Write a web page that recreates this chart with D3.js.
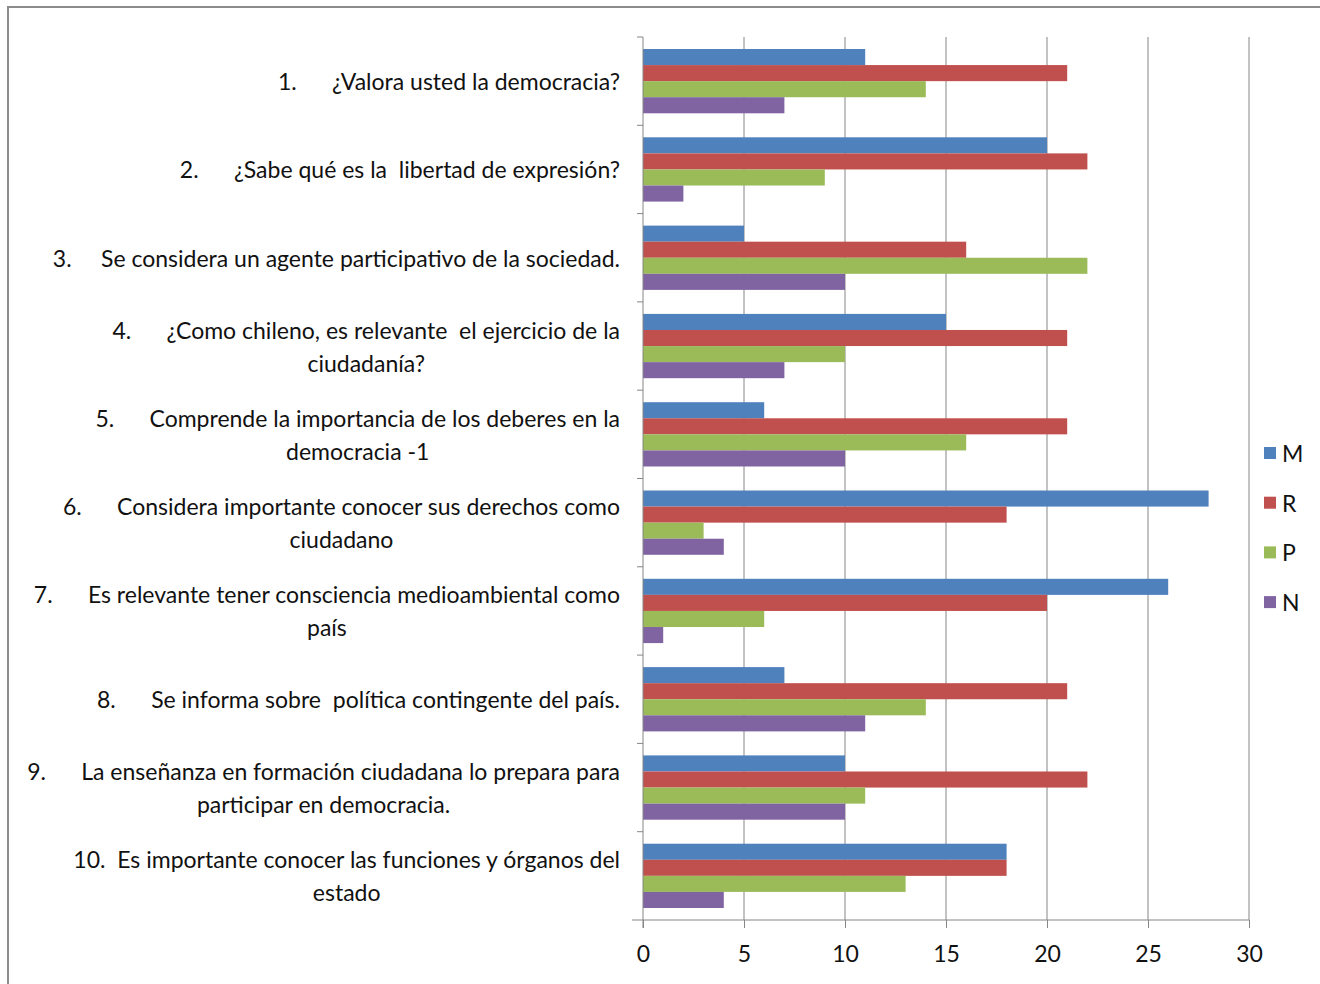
<!DOCTYPE html>
<html>
<head>
<meta charset="utf-8">
<script src="https://cdn.jsdelivr.net/npm/d3@7"></script>
<style>
  html, body { margin: 0; padding: 0; background: #fff; overflow: hidden; }
  svg { display: block; font-family: Lato, "Open Sans", sans-serif; }
  .label { fill: #111; font-size: 23px; }
  .tick-label { fill: #111; font-size: 23px; }
  .legend-text { fill: #111; font-size: 23px; }
</style>
</head>
<body>
<div class="chart"></div>
<script>
const categories = [
  ["1.\u00a0\u00a0\u00a0\u00a0\u00a0\u00a0¿Valora usted la democracia?"],
  ["2.\u00a0\u00a0\u00a0\u00a0\u00a0\u00a0¿Sabe qué es la\u00a0 libertad de expresión?"],
  ["3.\u00a0\u00a0\u00a0\u00a0\u00a0Se considera un agente participativo de la sociedad."],
  ["4.\u00a0\u00a0\u00a0\u00a0\u00a0\u00a0¿Como chileno, es relevante\u00a0 el ejercicio de la", "ciudadanía?"],
  ["5.\u00a0\u00a0\u00a0\u00a0\u00a0\u00a0Comprende la importancia de los deberes en la", "democracia -1"],
  ["6.\u00a0\u00a0\u00a0\u00a0\u00a0\u00a0Considera importante conocer sus derechos como", "ciudadano"],
  ["7.\u00a0\u00a0\u00a0\u00a0\u00a0\u00a0Es relevante tener consciencia medioambiental como", "país"],
  ["8.\u00a0\u00a0\u00a0\u00a0\u00a0\u00a0Se informa sobre\u00a0 política contingente del país."],
  ["9.\u00a0\u00a0\u00a0\u00a0\u00a0\u00a0La enseñanza en formación ciudadana lo prepara para", "participar en democracia."],
  ["10.\u00a0\u00a0Es importante conocer las funciones y órganos del", "estado"]
];
const seriesNames = ["M", "R", "P", "N"];
const valuesM = [11, 20, 5, 15, 6, 28, 26, 7, 10, 18];
const valuesR = [21, 22, 16, 21, 21, 18, 20, 21, 22, 18];
const valuesP = [14, 9, 22, 10, 16, 3, 6, 14, 11, 13];
const valuesN = [7, 2, 10, 7, 10, 4, 1, 11, 10, 4];
const xTicks = [0, 5, 10, 15, 20, 25, 30];
const seriesColors = ["#4F81BD", "#C0504D", "#9BBB59", "#8064A2"];

const seriesValues = [valuesM, valuesR, valuesP, valuesN];
const rows = categories.map((lines, i) => ({
  idx: i,
  lines: lines,
  values: seriesNames.map((s, j) => ({ key: s, value: seriesValues[j][i] }))
}));

const width = 1320, height = 984;
const plotLeft = 643, plotRight = 1249, plotTop = 37, plotBottom = 920;

const svg = d3.select(".chart")
  .append("svg")
  .attr("width", width)
  .attr("height", height);

// outer frame
svg.append("rect")
  .attr("x", 8).attr("y", 7)
  .attr("width", width + 20).attr("height", height + 20)
  .attr("fill", "#fff")
  .attr("stroke", "#8c8c8c")
  .attr("stroke-width", 2);

const x = d3.scaleLinear().domain([0, 30]).range([plotLeft, plotRight]);
const y0 = d3.scaleBand().domain(d3.range(categories.length)).range([plotTop, plotBottom]);
const pad = y0.bandwidth() * 0.136;
const y1 = d3.scaleBand().domain(seriesNames).range([pad, y0.bandwidth() - pad]);
const color = d3.scaleOrdinal().domain(seriesNames).range(seriesColors);

// gridlines
svg.append("g")
  .selectAll("line")
  .data(xTicks.slice(1))
  .enter()
  .append("line")
  .attr("x1", d => x(d)).attr("x2", d => x(d))
  .attr("y1", plotTop).attr("y2", plotBottom)
  .attr("stroke", "#868686")
  .attr("stroke-width", 1);

// bars
const groups = svg.append("g")
  .selectAll("g")
  .data(rows)
  .enter()
  .append("g")
  .attr("transform", d => `translate(0, ${y0(d.idx)})`);

groups.selectAll("rect")
  .data(d => d.values)
  .enter()
  .append("rect")
  .attr("x", x(0))
  .attr("y", d => y1(d.key))
  .attr("width", d => x(d.value) - x(0))
  .attr("height", y1.bandwidth())
  .attr("fill", d => color(d.key));

// x axis
const xAxis = svg.append("g")
  .attr("transform", `translate(0, ${plotBottom})`)
  .call(d3.axisBottom(x).tickValues(xTicks).tickSize(8).tickSizeOuter(0).tickPadding(18));
xAxis.select(".domain").remove();
xAxis.append("line")
  .attr("x1", plotLeft - 11).attr("x2", plotRight)
  .attr("stroke", "#868686");
xAxis.selectAll(".tick line").attr("stroke", "#868686");
xAxis.selectAll(".tick text")
  .attr("class", "tick-label")
  .attr("fill", null)
  .style("font-family", "Lato, 'Open Sans', sans-serif");

// y axis
svg.append("line")
  .attr("x1", plotLeft).attr("x2", plotLeft)
  .attr("y1", plotTop).attr("y2", plotBottom + 8)
  .attr("stroke", "#868686");
svg.append("g")
  .selectAll("line")
  .data(d3.range(categories.length))
  .enter()
  .append("line")
  .attr("x1", plotLeft - 6).attr("x2", plotLeft)
  .attr("y1", d => y0(d)).attr("y2", d => y0(d))
  .attr("stroke", "#868686");

// category labels: block right aligned, lines centered in block
const labelRight = 620, lineHeight = 33;
rows.forEach(r => {
  const g = svg.append("g");
  const cy = y0(r.idx) + y0.bandwidth() / 2;
  const n = r.lines.length;
  const texts = g.selectAll("text")
    .data(r.lines)
    .enter()
    .append("text")
    .attr("class", "label")
    .attr("text-anchor", "middle")
    .attr("dominant-baseline", "central")
    .attr("y", (d, i) => cy + (i - (n - 1) / 2) * lineHeight)
    .text(d => d);
  let maxW = 0;
  texts.each(function() { maxW = Math.max(maxW, this.getComputedTextLength()); });
  texts.attr("x", labelRight - maxW / 2);
});

// legend
const legend = svg.selectAll(".legend")
  .data(seriesNames)
  .enter()
  .append("g")
  .attr("class", "legend")
  .attr("transform", (d, i) => `translate(1264, ${453 + i * 49.7})`);

legend.append("rect")
  .attr("x", 0).attr("y", -6)
  .attr("width", 12).attr("height", 12)
  .attr("fill", d => color(d));

legend.append("text")
  .attr("class", "legend-text")
  .attr("x", 18)
  .attr("dominant-baseline", "central")
  .text(d => d);
</script>
</body>
</html>
